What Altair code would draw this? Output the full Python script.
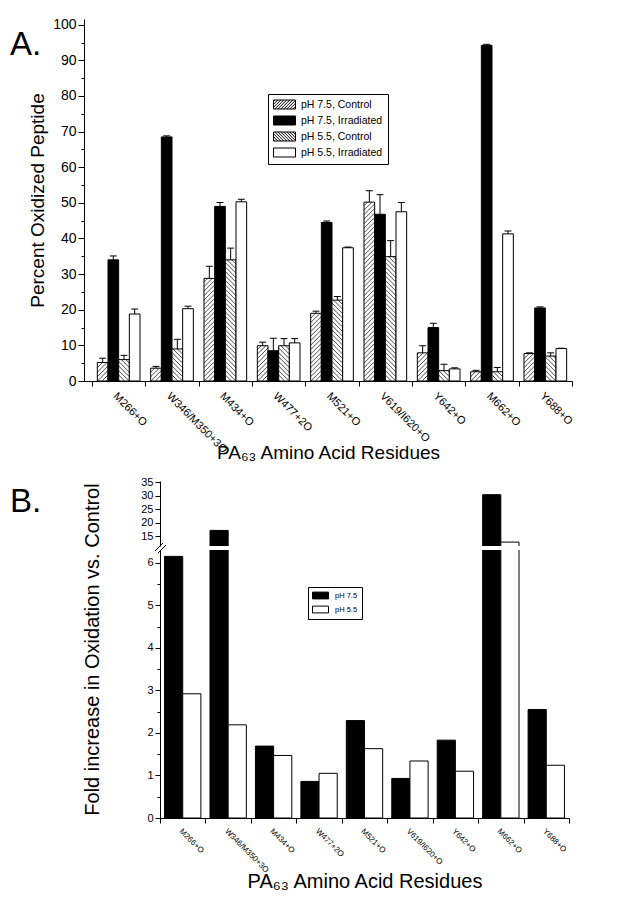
import altair as alt
import pandas as pd

# ---------------- data ----------------
residues = ["M266+O", "W346/M350+3O", "M434+O", "W477+2O", "M521+O",
            "V619/I620+O", "Y642+O", "M662+O", "Y688+O"]
series_a = ["pH 7.5, Control", "pH 7.5, Irradiated", "pH 5.5, Control", "pH 5.5, Irradiated"]
ctrl75 = [5.2, 3.6, 28.8, 9.9, 19.0, 50.2, 7.9, 2.6, 7.7]
ctrl75_err = [1.2, 0.5, 3.4, 1.0, 0.6, 3.2, 2.0, 0.4, 0.2]
irr75 = [34.0, 68.5, 49.0, 8.5, 44.5, 46.8, 15.0, 94.2, 20.5]
irr75_err = [1.1, 0.3, 1.1, 3.5, 0.4, 5.5, 1.2, 0.3, 0.3]
ctrl55 = [6.0, 9.0, 34.0, 9.9, 22.7, 34.9, 2.9, 2.6, 7.0]
ctrl55_err = [1.2, 2.7, 3.3, 2.0, 1.0, 4.5, 1.8, 1.2, 0.9]
irr55 = [18.8, 20.3, 50.3, 10.7, 37.4, 47.5, 3.4, 41.3, 9.1]
irr55_err = [1.4, 0.7, 0.7, 1.2, 0.2, 2.6, 0.3, 0.8, 0.1]

series_b = ["pH 7.5", "pH 5.5"]
fold75 = [6.15, 17.1, 1.69, 0.86, 2.29, 0.93, 1.83, 30.4, 2.55]
fold55 = [2.92, 2.19, 1.47, 1.05, 1.63, 1.34, 1.10, 12.75, 1.24]

FONT = "Liberation Sans"

# ---------------- panel A geometry ----------------
WA, HA = 488, 362
XA_DOM = [-0.15, 9]
YA_DOM = [0, 101.6]
sxA = WA / (XA_DOM[1] - XA_DOM[0])
syA = HA / (YA_DOM[1] - YA_DOM[0])

vals_a = [ctrl75, irr75, ctrl55, irr55]
errs_a = [ctrl75_err, irr75_err, ctrl55_err, irr55_err]
rows = []
for i, r in enumerate(residues):
    for j, s in enumerate(series_a):
        rows.append(dict(residue=r, idx=i, series=s, sidx=j,
                         value=vals_a[j][i], err=errs_a[j][i]))
dfA = pd.DataFrame(rows)


def hatch_segments(x0, x1, top, kind, spacing=4.5):
    w = (x1 - x0) * sxA
    h = top * syA
    out = []
    c = -w + 1.5
    while c < h:
        t0 = max(0.0, -c)
        t1 = min(w, h - c)
        if t1 - t0 > 0.3:
            if kind == "/":
                xa, xb = t0, t1
            else:
                xa, xb = w - t0, w - t1
            out.append(dict(hx0=x0 + xa / sxA, hy0=(c + t0) / syA,
                            hx1=x0 + xb / sxA, hy1=(c + t1) / syA))
        c += spacing
    return out


hrows = []
for i in range(len(residues)):
    for j, kind in ((0, "/"), (2, "\\")):
        x0 = i + 0.1 + j * 0.2
        hrows += hatch_segments(x0, x0 + 0.2, vals_a[j][i], kind)
dfH = pd.DataFrame(hrows)


def swatch_path(kind, hw=2.2, hh=0.9, step=0.6):
    p = f"M{-hw},{-hh}H{hw}V{hh}H{-hw}Z"
    if kind in ("/", "\\"):
        a = -hw - 2 * hh + 0.25
        while a < hw:
            t0 = max(0.0, -hw - a)
            t1 = min(2 * hh, hw - a)
            if t1 - t0 > 0.06:
                if kind == "/":
                    p += f"M{a + t0:.3f},{hh - t0:.3f}L{a + t1:.3f},{hh - t1:.3f}"
                else:
                    p += f"M{a + t0:.3f},{-hh + t0:.3f}L{a + t1:.3f},{-hh + t1:.3f}"
            a += step
    return p


names_js = "[" + ",".join("'" + n + "'" for n in residues) + "]"
half_ticks = [k / 2 for k in range(0, 19)]

xA_scale = alt.Scale(domain=XA_DOM, nice=False, zero=False)
yA_scale = alt.Scale(domain=YA_DOM, nice=False, zero=False)

xA_axis = alt.Axis(
    values=half_ticks,
    labelExpr=f"datum.value % 1 == 0 ? '' : {names_js}[floor(datum.value)]",
    tickOpacity={"condition": {"test": "datum.value % 1 == 0", "value": 1}, "value": 0},
    tickSize=5, labelAngle=45, labelAlign="left", labelBaseline="top",
    labelFontSize=11, labelPadding=4, labelOverlap=False, labelFlush=False,
    grid=False, title="PA\u2086\u2083 Amino Acid Residues", titleFontSize=19,
    titleY=77, titleBaseline="alphabetic")
yA_axis = alt.Axis(
    values=list(range(0, 101, 5)),
    labelExpr="datum.value % 10 == 0 ? datum.value : ''",
    tickSize={"condition": {"test": "datum.value % 10 == 0", "value": 6}, "value": 3},
    labelFontSize=14, labelPadding=2, grid=False,
    title="Percent Oxidized Peptide", titleFontSize=19, titleX=-47,
    titleBaseline="middle")

baseA = alt.Chart(dfA).transform_calculate(
    x0="datum.idx + 0.1 + datum.sidx * 0.2",
    x1="datum.idx + 0.3 + datum.sidx * 0.2",
    xc="datum.idx + 0.2 + datum.sidx * 0.2",
    c0="datum.idx + 0.135 + datum.sidx * 0.2",
    c1="datum.idx + 0.265 + datum.sidx * 0.2",
    top="datum.value + datum.err",
    zero="0",
)

barsA = baseA.mark_rect(stroke="black", strokeWidth=1).encode(
    x=alt.X("x0:Q", scale=xA_scale, axis=xA_axis),
    x2="x1:Q",
    y=alt.Y("value:Q", scale=yA_scale, axis=yA_axis),
    y2="zero:Q",
    fill=alt.condition("datum.sidx == 1", alt.value("black"), alt.value("white")),
)

hatchA = alt.Chart(dfH).mark_rule(color="black", strokeWidth=0.7).encode(
    x=alt.X("hx0:Q", scale=xA_scale, axis=xA_axis),
    x2="hx1:Q",
    y=alt.Y("hy0:Q", scale=yA_scale, axis=yA_axis),
    y2="hy1:Q",
)

errA = baseA.mark_rule(color="black", strokeWidth=1).encode(
    x=alt.X("xc:Q", scale=xA_scale, axis=xA_axis),
    y=alt.Y("value:Q", scale=yA_scale, axis=yA_axis),
    y2="top:Q",
)
capA = baseA.mark_rule(color="black", strokeWidth=1).encode(
    x=alt.X("c0:Q", scale=xA_scale, axis=xA_axis),
    x2="c1:Q",
    y=alt.Y("top:Q", scale=yA_scale, axis=yA_axis),
)

legA = alt.Legend(orient="none", legendX=184, legendY=75, title=None,
                  strokeColor="black", fillColor="white", padding=5,
                  labelFont=FONT, labelFontSize=10.5, labelColor="black",
                  symbolSize=100, symbolStrokeWidth=1, rowPadding=3,
                  symbolOffset=6, labelOffset=11, symbolOpacity=1)
legendPtsA = baseA.mark_point(filled=True, opacity=0).encode(
    x=alt.X("xc:Q", scale=xA_scale, axis=xA_axis),
    y=alt.Y("value:Q", scale=yA_scale, axis=yA_axis),
    fill=alt.Fill("series:N", legend=legA,
                  scale=alt.Scale(domain=series_a, range=["white", "black", "white", "white"])),
    shape=alt.Shape("series:N", legend=legA,
                    scale=alt.Scale(domain=series_a,
                                    range=[swatch_path("/"), swatch_path("box"),
                                           swatch_path("\\"), swatch_path("box")])),
    stroke=alt.Stroke("series:N", legend=legA,
                      scale=alt.Scale(domain=series_a, range=["black"] * 4)),
)

labelA = alt.Chart(pd.DataFrame({"t": ["A."]})).mark_text(
    font=FONT, fontSize=33, align="left", baseline="alphabetic", color="black"
).encode(text="t:N", x=alt.value(-74), y=alt.value(36))

panelA = alt.layer(barsA, hatchA, errA, capA, legendPtsA, labelA).properties(width=WA, height=HA)

# ---------------- panel B ----------------
WB = 485
XB_RANGE = [76, 485]
rowsB = []
for i, r in enumerate(residues):
    rowsB.append(dict(residue=r, idx=i, series=series_b[0], sidx=0, value=fold75[i]))
    rowsB.append(dict(residue=r, idx=i, series=series_b[1], sidx=1, value=fold55[i]))
dfB = pd.DataFrame(rowsB)

xB_scale = alt.Scale(domain=[0, 9], range=XB_RANGE, nice=False, zero=False)
fillB_scale = alt.Scale(domain=series_b, range=["black", "white"])

baseB = alt.Chart(dfB).transform_calculate(
    x0="datum.idx + 0.1 + datum.sidx * 0.4",
    x1="datum.idx + 0.5 + datum.sidx * 0.4",
    zero="0",
)

yUp_axis = alt.Axis(values=[15, 20, 25, 30, 35], offset=-76, tickSize=5,
                    labelFontSize=11, labelPadding=2, grid=False, title=None)
upper = baseB.mark_rect(stroke="black", strokeWidth=1, clip=True).encode(
    x=alt.X("x0:Q", scale=xB_scale, axis=None),
    x2="x1:Q",
    y=alt.Y("value:Q", scale=alt.Scale(domain=[11.3, 35.5], nice=False, zero=False),
            axis=yUp_axis),
    y2="zero:Q",
    fill=alt.Fill("series:N", scale=fillB_scale, legend=None),
)
labelB = alt.Chart(pd.DataFrame({"t": ["B."]})).mark_text(
    font=FONT, fontSize=33, align="left", baseline="alphabetic", color="black"
).encode(text="t:N", x=alt.value(-74), y=alt.value(31))
upperB = alt.layer(upper, labelB).properties(width=WB, height=65)

xB_axis = alt.Axis(
    values=half_ticks,
    labelExpr=f"datum.value % 1 == 0 ? '' : {names_js}[floor(datum.value)]",
    tickOpacity={"condition": {"test": "datum.value % 1 == 0", "value": 1}, "value": 0},
    tickSize=5, labelAngle=45, labelAlign="left", labelBaseline="top",
    labelFontSize=8, labelPadding=4, labelOverlap=False, labelFlush=False,
    grid=False, title="PA\u2086\u2083 Amino Acid Residues", titleFontSize=20,
    titleY=69, titleBaseline="alphabetic")
yLo_axis = alt.Axis(
    values=[k / 2 for k in range(0, 13)],
    labelExpr="datum.value % 1 == 0 ? datum.value : ''",
    tickSize={"condition": {"test": "datum.value % 1 == 0", "value": 5}, "value": 3},
    offset=-76, labelFontSize=11, labelPadding=2, grid=False,
    title="Fold increase in Oxidation vs. Control", titleFontSize=20,
    titleX=-68, titleY=99, titleBaseline="middle")
legB = alt.Legend(orient="none", legendX=224, legendY=37, title=None,
                  strokeColor="black", fillColor="white", padding=4,
                  labelFont=FONT, labelFontSize=7.5, labelColor="black",
                  symbolType="M-2,-0.85H2V0.85H-2Z", symbolSize=64,
                  symbolStrokeColor="black", symbolStrokeWidth=1,
                  symbolOffset=4, rowPadding=3, labelOffset=10)
lower = baseB.mark_rect(stroke="black", strokeWidth=1, clip=True).encode(
    x=alt.X("x0:Q", scale=xB_scale, axis=xB_axis),
    x2="x1:Q",
    y=alt.Y("value:Q", scale=alt.Scale(domain=[0, 6.3], nice=False, zero=False),
            axis=yLo_axis),
    y2="zero:Q",
    fill=alt.Fill("series:N", scale=fillB_scale, legend=legB),
)
brk1 = alt.Chart(pd.DataFrame({"k": [0]})).mark_rule(color="black", strokeWidth=1).encode(
    x=alt.value(71), x2=alt.value(79), y=alt.value(1), y2=alt.value(-7))
brk2 = alt.Chart(pd.DataFrame({"k": [0]})).mark_rule(color="black", strokeWidth=1).encode(
    x=alt.value(74), x2=alt.value(82), y=alt.value(3), y2=alt.value(-5))
lowerB = alt.layer(lower, brk1, brk2).properties(width=WB, height=268)

panelB = alt.vconcat(upperB, lowerB, spacing=4, bounds="flush").resolve_scale(
    fill="independent")

chart = alt.vconcat(panelA, panelB, spacing=100, bounds="flush").resolve_scale(
    fill="independent", shape="independent", stroke="independent",
    x="independent", y="independent"
).resolve_legend(
    fill="independent", shape="independent", stroke="independent"
).properties(
    padding={"left": 2, "top": 9, "right": 5, "bottom": 5}
).configure_view(stroke=None).configure_axis(
    domainColor="black", tickColor="black", labelColor="black", titleColor="black",
    labelFont=FONT, titleFont=FONT, titleFontWeight="normal", domainWidth=1, tickWidth=1
)

chart.save("out.html", embed_options={"renderer": "svg", "actions": False})
